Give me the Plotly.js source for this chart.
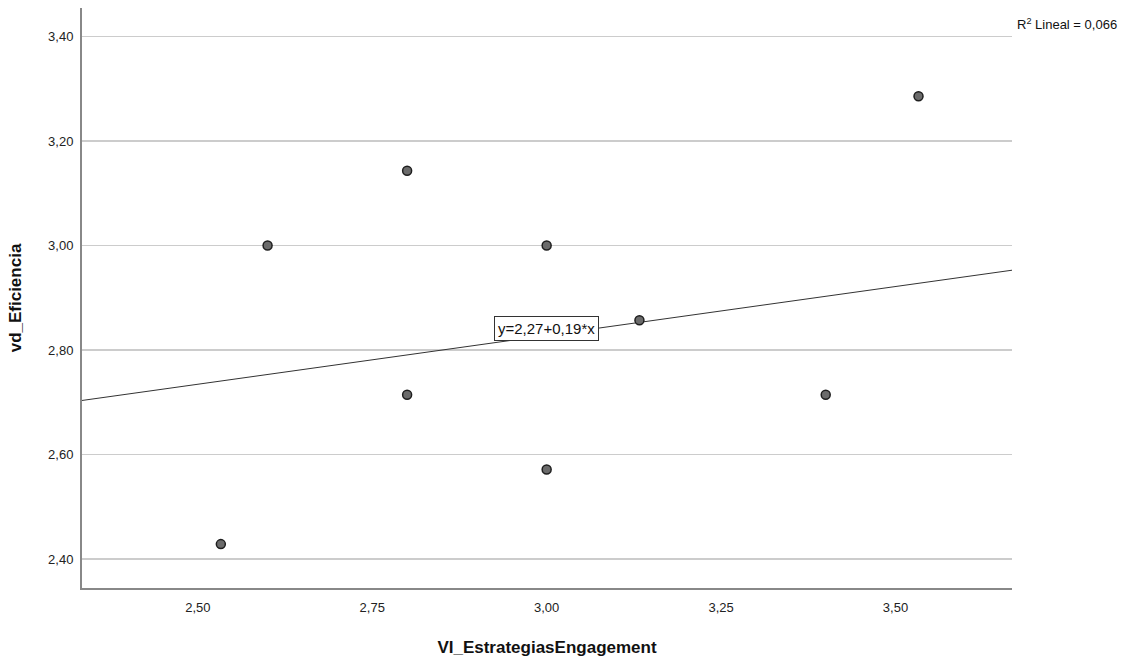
<!DOCTYPE html>
<html>
<head>
<meta charset="utf-8">
<script src="https://cdn.plot.ly/plotly-3.0.1.min.js"></script>
<style>html,body{margin:0;padding:0;background:#fff;}#chart{width:1134px;height:657px;}</style>
</head>
<body>
<div id="chart"></div>
<script>
const estrategias = [2.533, 2.600, 2.800, 2.800, 3.000, 3.000, 3.133, 3.400, 3.533];
const eficiencia  = [2.4286, 3.0000, 3.1429, 2.7143, 3.0000, 2.5714, 2.8571, 2.7143, 3.2857];
const fitIntercept = 2.267;
const fitSlope = 0.187;
const xRange = [2.334, 3.667];
const yRange = [2.3446, 3.4545];
const xTicks = [2.50, 2.75, 3.00, 3.25, 3.50];
const xTickText = ["2,50", "2,75", "3,00", "3,25", "3,50"];
const yTicks = [2.40, 2.60, 2.80, 3.00, 3.20, 3.40];
const yTickText = ["2,40", "2,60", "2,80", "3,00", "3,20", "3,40"];
const eqLabel = "y=2,27+0,19*x";
const r2Label = "R<sup>2</sup> Lineal = 0,066";

const fitX = xRange;
const fitY = fitX.map(x => fitIntercept + fitSlope * x);

const traces = [
  {
    x: fitX, y: fitY, mode: 'lines', type: 'scatter',
    line: {color: '#333333', width: 1}, hoverinfo: 'skip', showlegend: false
  },
  {
    x: estrategias, y: eficiencia, mode: 'markers', type: 'scatter',
    marker: {size: 9, color: '#6b6b6b', line: {color: '#1e1e1e', width: 1.5}},
    showlegend: false
  }
];

const layout = {
  width: 1134, height: 657,
  margin: {l: 82, r: 122, t: 8, b: 69},
  paper_bgcolor: '#ffffff', plot_bgcolor: '#ffffff',
  font: {family: 'Liberation Sans, Arial, sans-serif', size: 13, color: '#222'},
  xaxis: {
    range: xRange, tickvals: xTicks, ticktext: xTickText,
    showgrid: false, zeroline: false, showline: true, linecolor: '#888888', linewidth: 2,
    ticks: '', ticklen: 0, ticklabelstandoff: 6, tickfont: {size: 13, color: '#222'},
    title: {text: '<b>VI_EstrategiasEngagement</b>', font: {size: 17, color: '#111'}, standoff: 30}
  },
  yaxis: {
    range: yRange, tickvals: yTicks, ticktext: yTickText,
    showgrid: true, gridcolor: '#cccccc', gridwidth: 1.5,
    zeroline: false, showline: true, linecolor: '#888888', linewidth: 2,
    ticks: '', ticklabelstandoff: 4, tickfont: {size: 13, color: '#222'},
    title: {text: '<b>vd_Eficiencia</b>', font: {size: 17, color: '#111'}, standoff: 22}
  },
  annotations: [
    {
      x: 3.0, y: fitIntercept + fitSlope * 3.0 + 0.014, xref: 'x', yref: 'y',
      text: eqLabel, showarrow: false, font: {size: 15, color: '#111'},
      bgcolor: '#ffffff', bordercolor: '#333333', borderwidth: 1, borderpad: 3
    },
    {
      x: 1.003, y: 0.99, xref: 'paper', yref: 'paper', xanchor: 'left', yanchor: 'top',
      text: r2Label, showarrow: false, font: {size: 13, color: '#111'}
    }
  ]
};

Plotly.newPlot('chart', traces, layout, {displayModeBar: false, staticPlot: true});
</script>
</body>
</html>
